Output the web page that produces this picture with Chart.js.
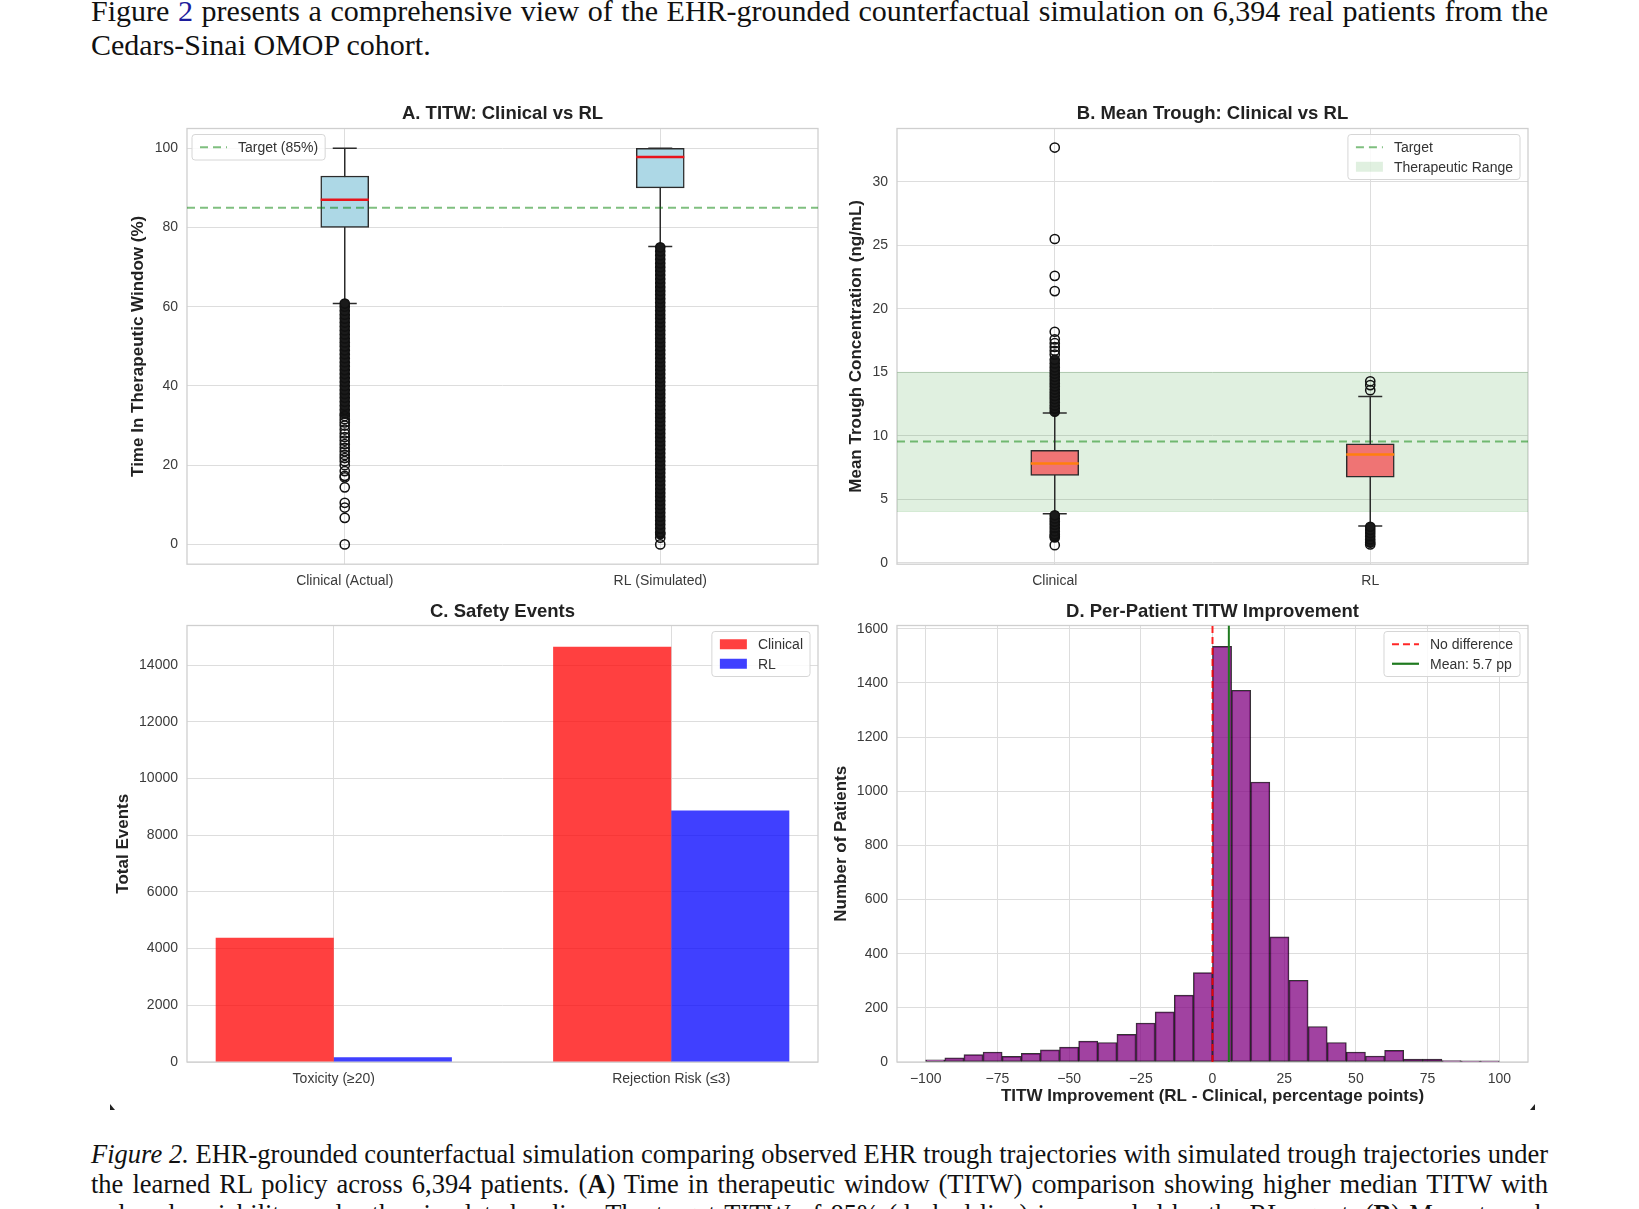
<!DOCTYPE html>
<html>
<head>
<meta charset="utf-8">
<title>Figure 2 - EHR-grounded counterfactual simulation</title>
<script src="https://cdn.jsdelivr.net/npm/chart.js@4.4.1/dist/chart.umd.min.js"></script>
<style>
  html, body { margin: 0; padding: 0; background: #fff; }
  body { position: relative; width: 1639px; height: 1209px; overflow: hidden;
         font-family: "Liberation Serif", "Times New Roman", serif; color: #111; }
  .line { position: absolute; left: 91px; width: 1457px; white-space: nowrap; text-align: justify; text-align-last: justify; }
  .line.short { text-align: left; text-align-last: left; }
  .intro { font-size: 30px; line-height: 34px; }
  .caption { font-size: 26.5px; line-height: 30px; }
  .ref { color: #1c1c9c; }
  .panel { position: absolute; }
  .mark { position: absolute; width: 0; height: 0; border-style: solid; }
</style>
</head>
<body>

<div class="line intro" style="top:-6px">Figure <span class="ref">2</span> presents a comprehensive view of the EHR-grounded counterfactual simulation on 6,394 real patients from the</div>
<div class="line short intro" style="top:28px">Cedars-Sinai OMOP cohort.</div>

<div class="panel" style="left:109px;top:93px;width:719px;height:505px"><canvas id="chartA"></canvas></div>
<div class="panel" style="left:835px;top:93px;width:703px;height:505px"><canvas id="chartB"></canvas></div>
<div class="panel" style="left:99px;top:590px;width:729px;height:505px"><canvas id="chartC"></canvas></div>
<div class="panel" style="left:820px;top:590px;width:718px;height:518px"><canvas id="chartD"></canvas></div>

<div class="mark" style="left:110px;top:1104px;border-width:6px 0 0 5px;border-color:transparent transparent transparent #222"></div>
<div class="mark" style="left:1530px;top:1104px;border-width:6px 5px 0 0;border-color:transparent #222 transparent transparent"></div>

<div class="line caption" style="top:1139px"><i>Figure 2.</i> EHR-grounded counterfactual simulation comparing observed EHR trough trajectories with simulated trough trajectories under</div>
<div class="line caption" style="top:1169px">the learned RL policy across 6,394 patients. (<b>A</b>) Time in therapeutic window (TITW) comparison showing higher median TITW with</div>
<div class="line caption" style="top:1199px">reduced variability under the simulated policy. The target TITW of 85% (dashed line) is exceeded by the RL agent. (<b>B</b>) Mean trough</div>

<script>
// ---------- A. TITW boxplots ----------
const titwGroups = ['Clinical (Actual)', 'RL (Simulated)'];
const groupPos = [1, 2];
const groupXRange = [0.5, 2.5];
const titwWhiskerLow = [60.8, 75.2];
const titwQ1 = [80, 90];
const titwMedian = [87, 97.8];
const titwQ3 = [93, 100];
const titwWhiskerHigh = [100, 100];
const titwOutClinical = [0, 6.7, 9.3, 10.5, 14.4, 16.9, 17.3, 18.5, 20, 21, 21.8, 22.6, 23.5, 24.4, 25.3, 26.2, 27.1, 28, 29, 30, 30.8, 31.6, 32.4];
const titwOutClinicalDense = [33, 34, 35, 36, 37, 38, 39, 40, 41, 42, 43, 44, 45, 46, 47, 48, 49, 50, 51, 52, 53, 54, 55, 56, 57, 58, 59, 60, 60.8];
const titwOutRL = [0, 1.7];
const titwOutRLDense = [2.6, 3, 4, 5, 6, 7, 8, 9, 10, 11, 12, 13, 14, 15, 16, 17, 18, 19, 20, 21, 22, 23, 24, 25, 26, 27, 28, 29, 30,
  31, 32, 33, 34, 35, 36, 37, 38, 39, 40, 41, 42, 43, 44, 45, 46, 47, 48, 49, 50, 51, 52, 53, 54, 55, 56, 57, 58, 59, 60,
  61, 62, 63, 64, 65, 66, 67, 68, 69, 70, 71, 72, 73, 74, 75];
const titwTarget = 85;
const titwYRange = [-5, 105];
const titwYTicks = [0, 20, 40, 60, 80, 100];

// ---------- B. mean trough boxplots ----------
const troughGroups = ['Clinical', 'RL'];
const troughWhiskerLow = [3.88, 2.91];
const troughQ1 = [6.88, 6.75];
const troughMedian = [7.82, 8.53];
const troughQ3 = [8.87, 9.37];
const troughWhiskerHigh = [11.8, 13.1];
const troughOutClinical = [32.7, 25.5, 22.6, 21.4, 18.2, 17.6, 17.3, 17.0, 16.7, 16.4, 2.1, 1.4];
const troughOutClinicalDense = [11.9, 12.15, 12.4, 12.65, 12.9, 13.15, 13.4, 13.65, 13.9, 14.15, 14.4, 14.65, 14.9, 15.15, 15.4, 15.7, 16.0,
  2.0, 2.25, 2.5, 2.75, 3.0, 3.25, 3.5, 3.75];
const troughOutRL = [14.3, 14.0, 13.6, 1.45];
const troughOutRLDense = [1.6, 1.85, 2.1, 2.35, 2.6, 2.85];
const troughTarget = 9.55;
const troughBand = [4.05, 15];
const troughYRange = [-0.1, 34.2];
const troughYTicks = [0, 5, 10, 15, 20, 25, 30];

// ---------- C. safety events ----------
const safetyCategories = ['Toxicity (\u226520)', 'Rejection Risk (\u22643)'];
const safetyPos = [0, 1];
const safetyClinical = [4380, 14650];
const safetyRL = [170, 8870];
const safetyXRange = [-0.435, 1.435];
const safetyYRange = [0, 15400];
const safetyYTicks = [0, 2000, 4000, 6000, 8000, 10000, 12000, 14000];

// ---------- D. per-patient improvement histogram ----------
const histSpan = [-100, 100];
const histCounts = [8, 15, 27, 37, 21, 32, 45, 55, 77, 72, 102, 144, 185, 247, 330,
  1535, 1373, 1034, 462, 302, 131, 72, 37, 22, 43, 11, 11, 5, 4, 4];
const meanImprovement = 5.7;
const histXRange = [-110, 110];
const histYRange = [0, 1612];
const histXTicks = [-100, -75, -50, -25, 0, 25, 50, 75, 100];
const histYTicks = [0, 200, 400, 600, 800, 1000, 1200, 1400, 1600];

// ---------- styling ----------
const SANS = '"Liberation Sans", Arial, Helvetica, sans-serif';
const INK = '#222';
const EDGE = '#2b2b2b';
const GRID = '#dddddd';
const BOX_W = 48;
const TARGET_GREEN = 'rgba(0,128,0,0.5)';

Chart.defaults.font.family = SANS;
Chart.defaults.font.size = 14;
Chart.defaults.color = '#3a3a3a';

// light grey frame around each plot area
const plotFrame = {
  id: 'plotFrame',
  beforeDatasetsDraw(chart) {
    const { ctx, chartArea: a } = chart;
    ctx.save();
    ctx.strokeStyle = '#cfcfcf';
    ctx.lineWidth = 1.3;
    ctx.strokeRect(a.left, a.top, a.right - a.left, a.bottom - a.top);
    ctx.restore();
  }
};

// matplotlib-like legend box drawn inside the plot area
const insetLegend = {
  id: 'insetLegend',
  afterDatasetsDraw(chart, args, opts) {
    const items = chart.data.datasets.filter(d => d.legendKind).sort((a, b) => a.legendRank - b.legendRank);
    if (!items.length) return;
    const { ctx, chartArea: a } = chart;
    ctx.save();
    ctx.font = '14px ' + SANS;
    const rowH = 19.5, padX = 8, padY = 3, handleW = 27, gap = 11;
    const tw = Math.max(...items.map(d => ctx.measureText(d.label).width));
    const w = padX + handleW + gap + tw + 7;
    const h = padY * 2 + rowH * items.length;
    const x0 = opts.side === 'left' ? a.left + 5 : a.right - 8 - w;
    const y0 = a.top + 6;
    ctx.beginPath();
    if (ctx.roundRect) ctx.roundRect(x0, y0, w, h, 3); else ctx.rect(x0, y0, w, h);
    ctx.fillStyle = 'rgba(255,255,255,0.85)';
    ctx.fill();
    ctx.strokeStyle = '#d6d6d6';
    ctx.lineWidth = 1;
    ctx.stroke();
    items.forEach((d, i) => {
      const cy = y0 + padY + rowH * (i + 0.5);
      const hx = x0 + padX;
      if (d.legendKind === 'patch') {
        ctx.fillStyle = d.backgroundColor;
        ctx.fillRect(hx, cy - 5, handleW, 10);
      } else {
        ctx.setLineDash(d.borderDash || []);
        ctx.strokeStyle = d.borderColor;
        ctx.lineWidth = 2.2;
        ctx.beginPath();
        ctx.moveTo(hx, cy);
        ctx.lineTo(hx + handleW, cy);
        ctx.stroke();
        ctx.setLineDash([]);
      }
      ctx.fillStyle = '#333';
      ctx.textAlign = 'left';
      ctx.textBaseline = 'middle';
      ctx.fillText(d.label, hx + handleW + gap, cy + 1);
    });
    ctx.restore();
  }
};

const fixedTicks = vals => scale => { scale.ticks = vals.map(v => ({ value: v })); };
const plainNum = v => String(v);
const minusNum = v => (v < 0 ? '\u2212' + Math.abs(v) : String(v));

function boxPlotDatasets(low, q1, med, q3, high, fill, medColor, outs, dense) {
  const sets = [];
  sets.push({ type: 'bar', data: groupPos.map((x, i) => ({ x, y: [q1[i], q3[i]] })),
    backgroundColor: fill, borderColor: EDGE, borderWidth: 1.5, borderSkipped: false,
    barThickness: BOX_W, order: 3 });
  groupPos.forEach((x, i) => sets.push({ type: 'line', data: [{ x, y: low[i] }, { x, y: high[i] }],
    borderColor: EDGE, borderWidth: 1.5, pointRadius: 0, order: 4 }));
  sets.push({ type: 'scatter', data: groupPos.flatMap((x, i) => [{ x, y: low[i] }, { x, y: high[i] }]),
    pointStyle: 'line', pointRadius: BOX_W / 4, pointBorderColor: EDGE, pointBorderWidth: 1.5, order: 2 });
  sets.push({ type: 'scatter', data: groupPos.map((x, i) => ({ x, y: med[i] })),
    pointStyle: 'line', pointRadius: BOX_W / 2, pointBorderColor: medColor, pointBorderWidth: 2.5, order: 1 });
  outs.forEach((vals, i) => sets.push({ type: 'scatter', data: vals.map(y => ({ x: groupPos[i], y })),
    pointRadius: 4.6, pointBorderWidth: 1.5, pointBorderColor: '#111', pointBackgroundColor: 'rgba(0,0,0,0)', order: 0 }));
  dense.forEach((vals, i) => sets.push({ type: 'scatter', data: vals.map(y => ({ x: groupPos[i], y })),
    pointRadius: 4.6, pointBorderWidth: 1.5, pointBorderColor: '#111', pointBackgroundColor: '#1a1a1a', order: 0 }));
  return sets;
}

function makeChart(id, cfg) {
  const axisTitle = (text, pad) => ({ display: true, text, color: INK,
    font: { size: 17, weight: 'bold', lineHeight: 1.2 }, padding: pad });
  return new Chart(document.getElementById(id), {
    type: 'bar',
    data: { datasets: cfg.datasets },
    options: {
      responsive: true,
      maintainAspectRatio: false,
      animation: false,
      events: [],
      layout: { autoPadding: false, padding: { left: 0, right: 10, top: 0, bottom: 0 } },
      plugins: {
        legend: { display: false },
        tooltip: { enabled: false },
        title: { display: true, text: cfg.title, fullSize: false, color: INK,
          font: { size: 18.5, weight: 'bold', lineHeight: 1.2 }, padding: cfg.titlePad },
        insetLegend: { side: cfg.legendSide }
      },
      scales: {
        x: {
          type: 'linear', min: cfg.xRange[0], max: cfg.xRange[1], bounds: 'data', offset: false,
          grid: { color: GRID, lineWidth: 1, drawTicks: false, offset: false },
          border: { display: false },
          afterBuildTicks: fixedTicks(cfg.xTicks),
          afterFit: s => { s.height = cfg.xHeight; },
          ticks: { autoSkip: false, maxRotation: 0, padding: cfg.xTickPad, callback: cfg.xFmt },
          title: cfg.xTitle ? axisTitle(cfg.xTitle, { top: 0, bottom: cfg.xTitlePad }) : { display: false }
        },
        y: {
          type: 'linear', min: cfg.yRange[0], max: cfg.yRange[1], bounds: 'data',
          grid: { color: GRID, lineWidth: 1, drawTicks: false },
          border: { display: false },
          afterBuildTicks: fixedTicks(cfg.yTicks),
          afterFit: s => { s.width = cfg.yWidth; },
          ticks: { padding: 9, callback: plainNum },
          title: axisTitle(cfg.yTitle, { top: cfg.yTitlePad, bottom: 0 })
        }
      }
    },
    plugins: [plotFrame, insetLegend]
  });
}

const topRowTitlePad = { top: 9.4, bottom: 3.9 };
const bottomRowTitlePad = { top: 10.4, bottom: 2.9 };

// ---------- A ----------
makeChart('chartA', {
  title: 'A. TITW: Clinical vs RL',
  titlePad: topRowTitlePad,
  legendSide: 'left',
  xRange: groupXRange, xTicks: groupPos, xFmt: (v, i) => titwGroups[i], xHeight: 33.8, xTickPad: 8.5,
  yRange: titwYRange, yTicks: titwYTicks, yWidth: 78,
  yTitle: 'Time In Therapeutic Window (%)', yTitlePad: 18.8,
  datasets: [
    { type: 'line', label: 'Target (85%)', legendKind: 'line', legendRank: 0,
      data: groupXRange.map(x => ({ x, y: titwTarget })),
      borderColor: TARGET_GREEN, borderDash: [8, 5], borderWidth: 2, pointRadius: 0, order: 2.5 },
    ...boxPlotDatasets(titwWhiskerLow, titwQ1, titwMedian, titwQ3, titwWhiskerHigh, '#add8e6', '#e8141c',
      [titwOutClinical, titwOutRL], [titwOutClinicalDense, titwOutRLDense])
  ]
});

// ---------- B ----------
makeChart('chartB', {
  title: 'B. Mean Trough: Clinical vs RL',
  titlePad: topRowTitlePad,
  legendSide: 'right',
  xRange: groupXRange, xTicks: groupPos, xFmt: (v, i) => troughGroups[i], xHeight: 33.8, xTickPad: 8.5,
  yRange: troughYRange, yTicks: troughYTicks, yWidth: 62,
  yTitle: 'Mean Trough Concentration (ng/mL)', yTitlePad: 10.8,
  datasets: [
    { type: 'line', label: 'Therapeutic Range', legendKind: 'patch', legendRank: 1,
      data: groupXRange.map(x => ({ x, y: troughBand[1] })), fill: '+1',
      backgroundColor: 'rgba(0,128,0,0.12)', borderColor: 'rgba(0,128,0,0.16)', borderWidth: 1, pointRadius: 0, order: 10 },
    { type: 'line', data: groupXRange.map(x => ({ x, y: troughBand[0] })), fill: false,
      borderColor: 'rgba(0,128,0,0.12)', borderWidth: 1, pointRadius: 0, order: 10 },
    { type: 'line', label: 'Target', legendKind: 'line', legendRank: 0,
      data: groupXRange.map(x => ({ x, y: troughTarget })),
      borderColor: TARGET_GREEN, borderDash: [8, 5], borderWidth: 2, pointRadius: 0, order: 5 },
    ...boxPlotDatasets(troughWhiskerLow, troughQ1, troughMedian, troughQ3, troughWhiskerHigh, '#ef7474', '#ff7f0e',
      [troughOutClinical, troughOutRL], [troughOutClinicalDense, troughOutRLDense])
  ]
});

// ---------- C ----------
makeChart('chartC', {
  title: 'C. Safety Events',
  titlePad: bottomRowTitlePad,
  legendSide: 'right',
  xRange: safetyXRange, xTicks: safetyPos, xFmt: (v, i) => safetyCategories[i], xHeight: 33, xTickPad: 9,
  yRange: safetyYRange, yTicks: safetyYTicks, yWidth: 88,
  yTitle: 'Total Events', yTitlePad: 13.8,
  datasets: [
    { label: 'Clinical', legendKind: 'patch', legendRank: 0,
      data: safetyPos.map((x, i) => ({ x, y: safetyClinical[i] })),
      backgroundColor: 'rgba(255,0,0,0.75)', categoryPercentage: 0.7, barPercentage: 1 },
    { label: 'RL', legendKind: 'patch', legendRank: 1,
      data: safetyPos.map((x, i) => ({ x, y: safetyRL[i] })),
      backgroundColor: 'rgba(0,0,255,0.75)', categoryPercentage: 0.7, barPercentage: 1 }
  ]
});

// ---------- D ----------
const binWidth = (histSpan[1] - histSpan[0]) / histCounts.length;
const binCenters = histCounts.map((_, i) => histSpan[0] + (i + 0.5) * binWidth);
makeChart('chartD', {
  title: 'D. Per-Patient TITW Improvement',
  titlePad: bottomRowTitlePad,
  legendSide: 'right',
  xRange: histXRange, xTicks: histXTicks, xFmt: minusNum, xHeight: 46, xTickPad: 9,
  xTitle: 'TITW Improvement (RL - Clinical, percentage points)', xTitlePad: 1.8,
  yRange: histYRange, yTicks: histYTicks, yWidth: 77,
  yTitle: 'Number of Patients', yTitlePad: 10.8,
  datasets: [
    { type: 'line', label: 'No difference', legendKind: 'line', legendRank: 0,
      data: histYRange.map(y => ({ x: 0, y })),
      borderColor: 'rgba(255,0,0,0.85)', borderDash: [7, 4], borderWidth: 2, pointRadius: 0, order: 0 },
    { type: 'line', label: 'Mean: ' + meanImprovement + ' pp', legendKind: 'line', legendRank: 1,
      data: histYRange.map(y => ({ x: meanImprovement, y })),
      borderColor: '#1f7a1f', borderWidth: 2, pointRadius: 0, order: 1 },
    { data: binCenters.map((x, i) => ({ x, y: histCounts[i] })),
      backgroundColor: 'rgba(128,0,128,0.74)', borderColor: 'rgba(0,0,0,0.8)', borderWidth: 1,
      borderSkipped: false, categoryPercentage: 1, barPercentage: 1, order: 5 }
  ]
});
</script>
</body>
</html>
